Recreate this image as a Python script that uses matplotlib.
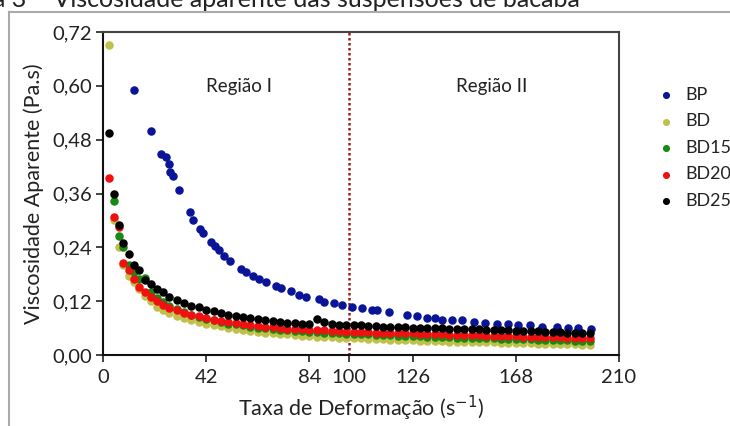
import matplotlib
matplotlib.use("Agg")
import matplotlib.pyplot as plt
from matplotlib.lines import Line2D

plt.rcParams['font.family'] = ['Lato', 'DejaVu Sans']

# shear rate grid shared by the diluted suspensions (s^-1)
x_low = [2.4, 4.6, 6.5, 8.2, 10.5, 12.5, 14.5, 17, 19.5, 22, 24.5, 27,
         30, 33, 36, 39, 42, 45, 48, 51, 54, 57,
         60, 63, 66, 69, 72, 75, 78, 81, 84, 87,
         90, 93, 96, 99, 102, 105, 108, 111, 114, 117,
         120, 123, 126, 129, 132, 135, 138, 141, 144, 147,
         150, 153, 156, 159, 162, 165, 168, 171, 174, 177,
         180, 183, 186, 189, 192, 195, 198]

bd = [0.69, 0.30, 0.24, 0.20, 0.175, 0.162, 0.148, 0.132, 0.12, 0.108, 0.100, 0.094,
      0.088, 0.083, 0.078, 0.074, 0.070, 0.067, 0.064, 0.061, 0.058, 0.056,
      0.054, 0.052, 0.050, 0.048, 0.047, 0.046, 0.044, 0.043, 0.042, 0.041,
      0.040, 0.040, 0.039, 0.038, 0.037, 0.037, 0.036, 0.035, 0.035, 0.034,
      0.034, 0.033, 0.033, 0.032, 0.032, 0.031, 0.031, 0.030, 0.030, 0.029,
      0.029, 0.028, 0.028, 0.028, 0.027, 0.027, 0.026, 0.026, 0.026, 0.025,
      0.025, 0.025, 0.024, 0.024, 0.024, 0.023, 0.023]

# BD15 has no point at the first shear rate
bd15 = [0.344, 0.265, 0.24, 0.20, 0.185, 0.17, 0.172, 0.14, 0.128, 0.118, 0.11,
        0.102, 0.095, 0.090, 0.085, 0.080, 0.077, 0.073, 0.070, 0.068, 0.066,
        0.063, 0.061, 0.060, 0.058, 0.056, 0.055, 0.054, 0.053, 0.052, 0.051,
        0.050, 0.049, 0.048, 0.047, 0.047, 0.046, 0.046, 0.045, 0.044, 0.044,
        0.043, 0.043, 0.042, 0.042, 0.041, 0.041, 0.040, 0.040, 0.039, 0.039,
        0.038, 0.038, 0.037, 0.037, 0.036, 0.036, 0.036, 0.035, 0.035, 0.034,
        0.034, 0.034, 0.033, 0.033, 0.032, 0.032, 0.031]

bd20 = [0.394, 0.307, 0.285, 0.205, 0.19, 0.17, 0.152, 0.14, 0.13, 0.12, 0.112, 0.105,
        0.100, 0.094, 0.090, 0.086, 0.082, 0.079, 0.076, 0.073, 0.071, 0.069,
        0.067, 0.065, 0.063, 0.062, 0.060, 0.059, 0.058, 0.057, 0.056, 0.056,
        0.055, 0.054, 0.053, 0.052, 0.052, 0.051, 0.051, 0.050, 0.050, 0.049,
        0.049, 0.048, 0.048, 0.047, 0.047, 0.046, 0.046, 0.045, 0.045, 0.044,
        0.044, 0.044, 0.043, 0.043, 0.042, 0.042, 0.042, 0.041, 0.041, 0.041,
        0.040, 0.040, 0.040, 0.039, 0.039, 0.039, 0.038]

bd25 = [0.494, 0.358, 0.29, 0.25, 0.225, 0.20, 0.189, 0.168, 0.158, 0.148, 0.14, 0.13,
        0.122, 0.116, 0.110, 0.106, 0.101, 0.097, 0.093, 0.090, 0.087, 0.085,
        0.082, 0.080, 0.078, 0.076, 0.074, 0.072, 0.071, 0.070, 0.070, 0.080,
        0.073, 0.069, 0.067, 0.066, 0.066, 0.066, 0.065, 0.064, 0.063, 0.063,
        0.062, 0.062, 0.061, 0.061, 0.060, 0.060, 0.060, 0.059, 0.058, 0.058,
        0.057, 0.057, 0.056, 0.056, 0.055, 0.055, 0.054, 0.054, 0.053, 0.053,
        0.052, 0.052, 0.051, 0.050, 0.050, 0.049, 0.048]

x_bp = [12.6, 19.7, 23.8, 25.8, 26.9, 27.4, 28.5, 30.8, 35.3, 36.7,
        39.3, 40.7, 44, 45.4, 47.4, 49.4, 51.5, 56.2, 58.2, 60.9,
        63.6, 66.3, 70.4, 72.4, 76.4, 79.8, 82.5, 88, 90, 94,
        97.4, 101.5, 105.3, 109.5, 111.6, 116.3, 123.8, 127.8, 131.9, 135.2,
        137.9, 142, 146, 150.8, 155.5, 160.2, 165, 169, 173.8, 178.5,
        184.6, 189.3, 193.4, 198.8]
bp = [0.59, 0.50, 0.449, 0.441, 0.426, 0.408, 0.399, 0.368, 0.318, 0.300,
      0.281, 0.273, 0.251, 0.244, 0.233, 0.221, 0.210, 0.192, 0.184, 0.177,
      0.169, 0.162, 0.154, 0.149, 0.143, 0.134, 0.130, 0.124, 0.118, 0.116,
      0.112, 0.107, 0.104, 0.100, 0.100, 0.095, 0.089, 0.086, 0.083, 0.082,
      0.078, 0.078, 0.077, 0.074, 0.072, 0.070, 0.068, 0.067, 0.066, 0.063,
      0.063, 0.061, 0.061, 0.059]

x_ticks = [0, 42, 84, 100, 126, 168, 210]
y_ticks = [0.00, 0.12, 0.24, 0.36, 0.48, 0.60, 0.72]

txt = '#222222'

fig = plt.figure(figsize=(7.30, 4.26), dpi=100)
ax = fig.add_axes([103 / 730, 1 - 355 / 426, 516 / 730, 323 / 426])

ms = 26
ax.scatter(x_bp, bp, s=ms, color='#0a1496', label='BP', zorder=3)
ax.scatter(x_low, bd, s=ms, color='#bfc14a', label='BD', zorder=3)
ax.scatter(x_low[1:], bd15, s=ms, color='#158a15', label='BD15', zorder=3)
ax.scatter(x_low, bd20, s=ms, color='#f01010', label='BD20', zorder=3)
ax.scatter(x_low, bd25, s=ms, color='#000000', label='BD25', zorder=3)

ax.axvline(100, color='#a01c1c', linestyle=(0, (1, 1)), linewidth=1.8, zorder=2)

ax.text(0.264, 0.83, 'Região I', transform=ax.transAxes, ha='center', va='center',
        fontsize=13.5, color=txt)
ax.text(0.754, 0.83, 'Região II', transform=ax.transAxes, ha='center', va='center',
        fontsize=13.5, color=txt)

ax.set_xlim(0, 210)
ax.set_ylim(0, 0.72)
ax.set_xticks(x_ticks)
ax.set_xticklabels([str(t) for t in x_ticks])
ax.set_yticks(y_ticks)
ax.set_yticklabels([f'{t:.2f}'.replace('.', ',') for t in y_ticks])
ax.tick_params(direction='out', length=5, width=1.2, labelsize=14.5, colors=txt)
ax.tick_params(axis='x', pad=5)
ax.tick_params(axis='y', pad=3)

for side in ['left', 'bottom']:
    ax.spines[side].set_linewidth(1.5)
    ax.spines[side].set_color('#111111')
for side in ['top', 'right']:
    ax.spines[side].set_linewidth(1.5)
    ax.spines[side].set_color('#444444')

ax.set_xlabel('Taxa de Deformação (s$^{-1}$)', fontsize=15.5, color=txt, labelpad=6)
ax.set_ylabel('Viscosidade Aparente (Pa.s)', fontsize=15.5, color=txt, labelpad=6)

fig.legend(loc='upper left', bbox_to_anchor=(657 / 730, 1 - 87 / 426), frameon=False,
           fontsize=13, markerscale=0.8, handlelength=1.0, handletextpad=0.55,
           labelspacing=0.58, borderpad=0, borderaxespad=0, labelcolor=txt)

# figure caption (cut at the top in the source) and outer frame
fig.text(580 / 730, 1 - 7 / 426, 'Figura 3 – Viscosidade aparente das suspensões de bacaba',
         ha='right', va='baseline', fontsize=18, color=txt)
fig.add_artist(Line2D([9 / 730, 1], [1 - 12 / 426, 1 - 12 / 426], transform=fig.transFigure,
                      color='#aaaaaa', linewidth=1.5))
fig.add_artist(Line2D([9 / 730, 9 / 730], [0, 1 - 12 / 426], transform=fig.transFigure,
                      color='#aaaaaa', linewidth=1.5))

fig.savefig('out.png', dpi=100)
